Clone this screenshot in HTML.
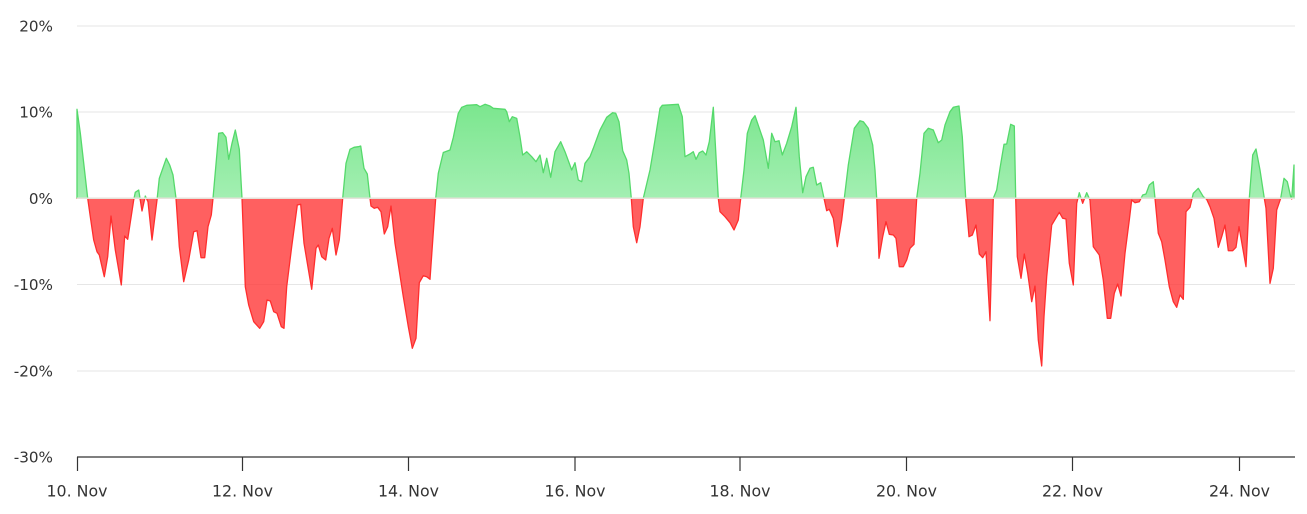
<!DOCTYPE html>
<html>
<head>
<meta charset="utf-8">
<style>
html,body{margin:0;padding:0;background:#fff;}
svg{display:block;}
text{font-family:"DejaVu Sans","Liberation Sans",sans-serif;fill:#333;}
</style>
</head>
<body>
<svg width="1307" height="514" viewBox="0 0 1307 514" xmlns="http://www.w3.org/2000/svg">
<defs>
<linearGradient id="gg" gradientUnits="userSpaceOnUse" x1="0" y1="104" x2="0" y2="198.3">
<stop offset="0" stop-color="#7be68e"/>
<stop offset="1" stop-color="#a3efb2"/>
</linearGradient>
<clipPath id="above"><rect x="0" y="0" width="1307" height="198.3"/></clipPath>
<clipPath id="below"><rect x="0" y="198.3" width="1307" height="300"/></clipPath>
<path id="area" d="M77,198.3 L77,109.3 L80.3,133 L83.7,163 L87.7,198.3 L90.3,216.7 L93.7,240 L97,251.7 L99.3,255 L104.3,276.7 L107.7,256.7 L111,216 L115.3,250 L121.3,285 L124.7,236 L127.7,239.3 L133.7,200 L135.3,192.3 L138.7,190 L142,211 L145.3,196 L148,201.7 L152,240 L157,200 L159.3,178.3 L166.3,158.3 L169.7,165 L173,175 L176,198.3 L179.3,246.7 L183.7,281.7 L188.7,260 L193.7,231.7 L197,230.7 L201,257.7 L204.7,257.7 L208,226.7 L211.3,215 L213,198.3 L218.7,133.3 L222.7,132.7 L226,137.3 L228.7,159.3 L232,143.3 L235.3,130 L239.3,149.3 L242,198.3 L245.3,286.7 L248.7,305 L253.7,321.7 L259.7,328.3 L263.7,321.7 L267,300 L270.3,301 L273.7,311.7 L277,313.3 L281.3,326.7 L284,328.3 L286.7,286.7 L291.7,246.7 L297.3,205 L300.7,204.3 L304,243.3 L311.7,289.3 L316,248.3 L318.3,245 L321.7,256.7 L325.7,260 L329,238.3 L332.3,228.3 L336,255 L339.3,240 L342.7,198.3 L346,163.3 L350,149.3 L354,147.3 L358.3,146.7 L360.7,146 L364,168.3 L367.3,174 L370,198.3 L371,206 L374.3,208.3 L377.7,207.3 L381,211.7 L384.3,234 L387.7,226.7 L391,206 L395,243.3 L403.3,296.7 L408.3,326.7 L412.3,348.3 L416,338.3 L419.3,282.7 L423.3,275.7 L426.7,276.7 L430,279.3 L435.7,198.3 L438.3,173.3 L443.3,152.5 L450,150 L453.3,137.5 L458.3,113.3 L461.7,107.3 L466.7,105.3 L476.7,104.7 L480,106.7 L485,104.3 L490,106 L493.3,108.3 L505,109.3 L506.7,111.7 L509.3,121.7 L512.3,116.7 L516.7,118.3 L520,136.7 L522.7,155 L526.7,151.7 L531.7,156.7 L536,161.7 L540,155 L543.3,172.7 L546.7,158.3 L550.7,177.3 L555,151.7 L560.7,141.7 L565,151.7 L571.7,170 L575,162.7 L578.3,180 L581.7,181.7 L585,163.3 L590,156.7 L593.3,148.3 L600,130 L606.7,117.3 L612.7,112.7 L615.7,113.3 L619,121.7 L622.7,150.7 L626.7,160 L629,173.3 L631.3,198.3 L633.3,226.7 L636.7,242.7 L640,226.7 L643.3,198.3 L650,170 L655,140 L660,108.3 L662.3,105.3 L678.3,104.3 L682.3,116.7 L685,156.7 L690,154 L693.3,151.7 L696,159.3 L699.3,152.7 L702.7,151 L706,155 L709.3,141.7 L713.3,107.3 L718.3,198.3 L720,211.7 L725,216.7 L730,222.7 L734,230 L738.3,220 L740.7,198.3 L744,170 L747.3,133.3 L751.7,120 L755,115.7 L763.3,140 L768.3,168.3 L771.7,133.3 L775,141.7 L779,140.7 L782.3,155 L786.7,143.3 L791.7,126.7 L796,107.3 L799.3,156.7 L802.7,192.7 L806,176.7 L810,168.3 L813.3,167.3 L816.7,185 L820.7,182.7 L824,198.3 L826.7,210.7 L829.3,209.3 L833.3,218.3 L837.3,246.7 L841.7,220 L844.3,198.3 L848.3,165 L854.3,128.3 L860,120.7 L863.3,121.7 L868.3,128.3 L872.7,145 L875,170 L876.7,198.3 L879,258.3 L882.7,236.7 L886,221.7 L889.3,234.3 L893.3,235 L896,238.3 L899.3,266.7 L903.3,266.7 L906.7,260 L910,248.3 L914,244.3 L916.7,198.3 L920,173.3 L924,133.3 L928.3,128.3 L933.3,130 L938.3,142.7 L941.7,140 L945,125 L950,111.7 L953.3,107.3 L959,106 L962.3,136.7 L965.7,198.3 L969,236.7 L972.3,235 L976,225 L979.3,254 L982.7,257.7 L986,251.7 L990,320.7 L993.3,198.3 L996.7,190 L1000,168.3 L1004,144.3 L1006.7,144 L1010.7,124.3 L1014.3,126 L1015.7,198.3 L1017.3,256.7 L1021,278.3 L1024.3,254 L1027.7,273.3 L1031.7,301.7 L1035,286 L1038.3,340 L1041.7,366 L1044,316.7 L1046.7,276.7 L1051.7,225 L1056.7,216.7 L1059.3,212.3 L1062.7,218.3 L1066,219 L1069.3,263.3 L1073.3,285 L1076.7,203.3 L1079.3,192.7 L1082.7,203.3 L1086.7,192.7 L1090,200 L1093.3,246.7 L1099.3,255 L1103.3,280 L1107.3,318.3 L1110.7,318.3 L1114.3,293.3 L1117.7,284 L1121,296 L1125,253.3 L1129.3,220 L1131.7,200 L1135,202.7 L1139.3,201.7 L1142.7,195 L1146,194 L1149.3,185 L1153.3,181.7 L1155,198.3 L1158.3,233.3 L1161.7,241.7 L1165,260 L1169.3,286.7 L1173.3,301.7 L1176.7,307.3 L1180,295 L1183.3,299.3 L1186,211.7 L1190,207.3 L1193.3,193.3 L1198.3,188.3 L1203.3,196.7 L1206.7,199.3 L1210,206.7 L1214,218.3 L1218.3,247.3 L1221.7,236.7 L1225,225 L1228.3,250.7 L1232.7,250.7 L1236,247.3 L1239,226.7 L1246,266.7 L1249.3,198.3 L1252.7,155 L1256,149 L1260,170 L1264.3,198.3 L1266,208.3 L1270,283.3 L1273.3,268.3 L1276.7,210 L1280.7,198.3 L1284,178.3 L1287.3,181.7 L1290.7,196.7 L1291.7,199 L1294,165 L1294,198.3 Z"/>
</defs>

<g stroke="#e6e6e6" stroke-width="1">
<line x1="77" y1="26" x2="1295" y2="26"/>
<line x1="77" y1="112" x2="1295" y2="112"/>
<line x1="77" y1="198.3" x2="1295" y2="198.3"/>
<line x1="77" y1="284.5" x2="1295" y2="284.5"/>
<line x1="77" y1="371" x2="1295" y2="371"/>
</g>

<use href="#area" clip-path="url(#above)" fill="url(#gg)"/>
<use href="#area" clip-path="url(#below)" fill="#ff3333" fill-opacity="0.78"/>
<use href="#area" clip-path="url(#above)" fill="none" stroke="#55d96b" stroke-width="1.3" stroke-linejoin="round"/>
<use href="#area" clip-path="url(#below)" fill="none" stroke="#ff2e2e" stroke-width="1.3" stroke-linejoin="round"/>

<line x1="77" y1="198.3" x2="1295" y2="198.3" stroke="#e6e2da" stroke-width="1.5"/>

<g stroke="#333" stroke-width="1.2">
<line x1="77" y1="457" x2="1295" y2="457"/>
<line x1="77.5" y1="457" x2="77.5" y2="471"/>
<line x1="242.5" y1="457" x2="242.5" y2="471"/>
<line x1="408.5" y1="457" x2="408.5" y2="471"/>
<line x1="575" y1="457" x2="575" y2="471"/>
<line x1="740" y1="457" x2="740" y2="471"/>
<line x1="906.5" y1="457" x2="906.5" y2="471"/>
<line x1="1072.5" y1="457" x2="1072.5" y2="471"/>
<line x1="1239.5" y1="457" x2="1239.5" y2="471"/>
</g>

<g font-size="15.2" text-anchor="end">
<text x="53" y="31.3">20%</text>
<text x="53" y="117.5">10%</text>
<text x="53" y="203.8">0%</text>
<text x="53" y="290">-10%</text>
<text x="53" y="376.5">-20%</text>
<text x="53" y="462.5">-30%</text>
</g>

<g font-size="15.8" text-anchor="middle">
<text x="77" y="496.7">10. Nov</text>
<text x="242.5" y="496.7">12. Nov</text>
<text x="408.5" y="496.7">14. Nov</text>
<text x="575" y="496.7">16. Nov</text>
<text x="740" y="496.7">18. Nov</text>
<text x="906.5" y="496.7">20. Nov</text>
<text x="1072.5" y="496.7">22. Nov</text>
<text x="1239.5" y="496.7">24. Nov</text>
</g>
</svg>
</body>
</html>
